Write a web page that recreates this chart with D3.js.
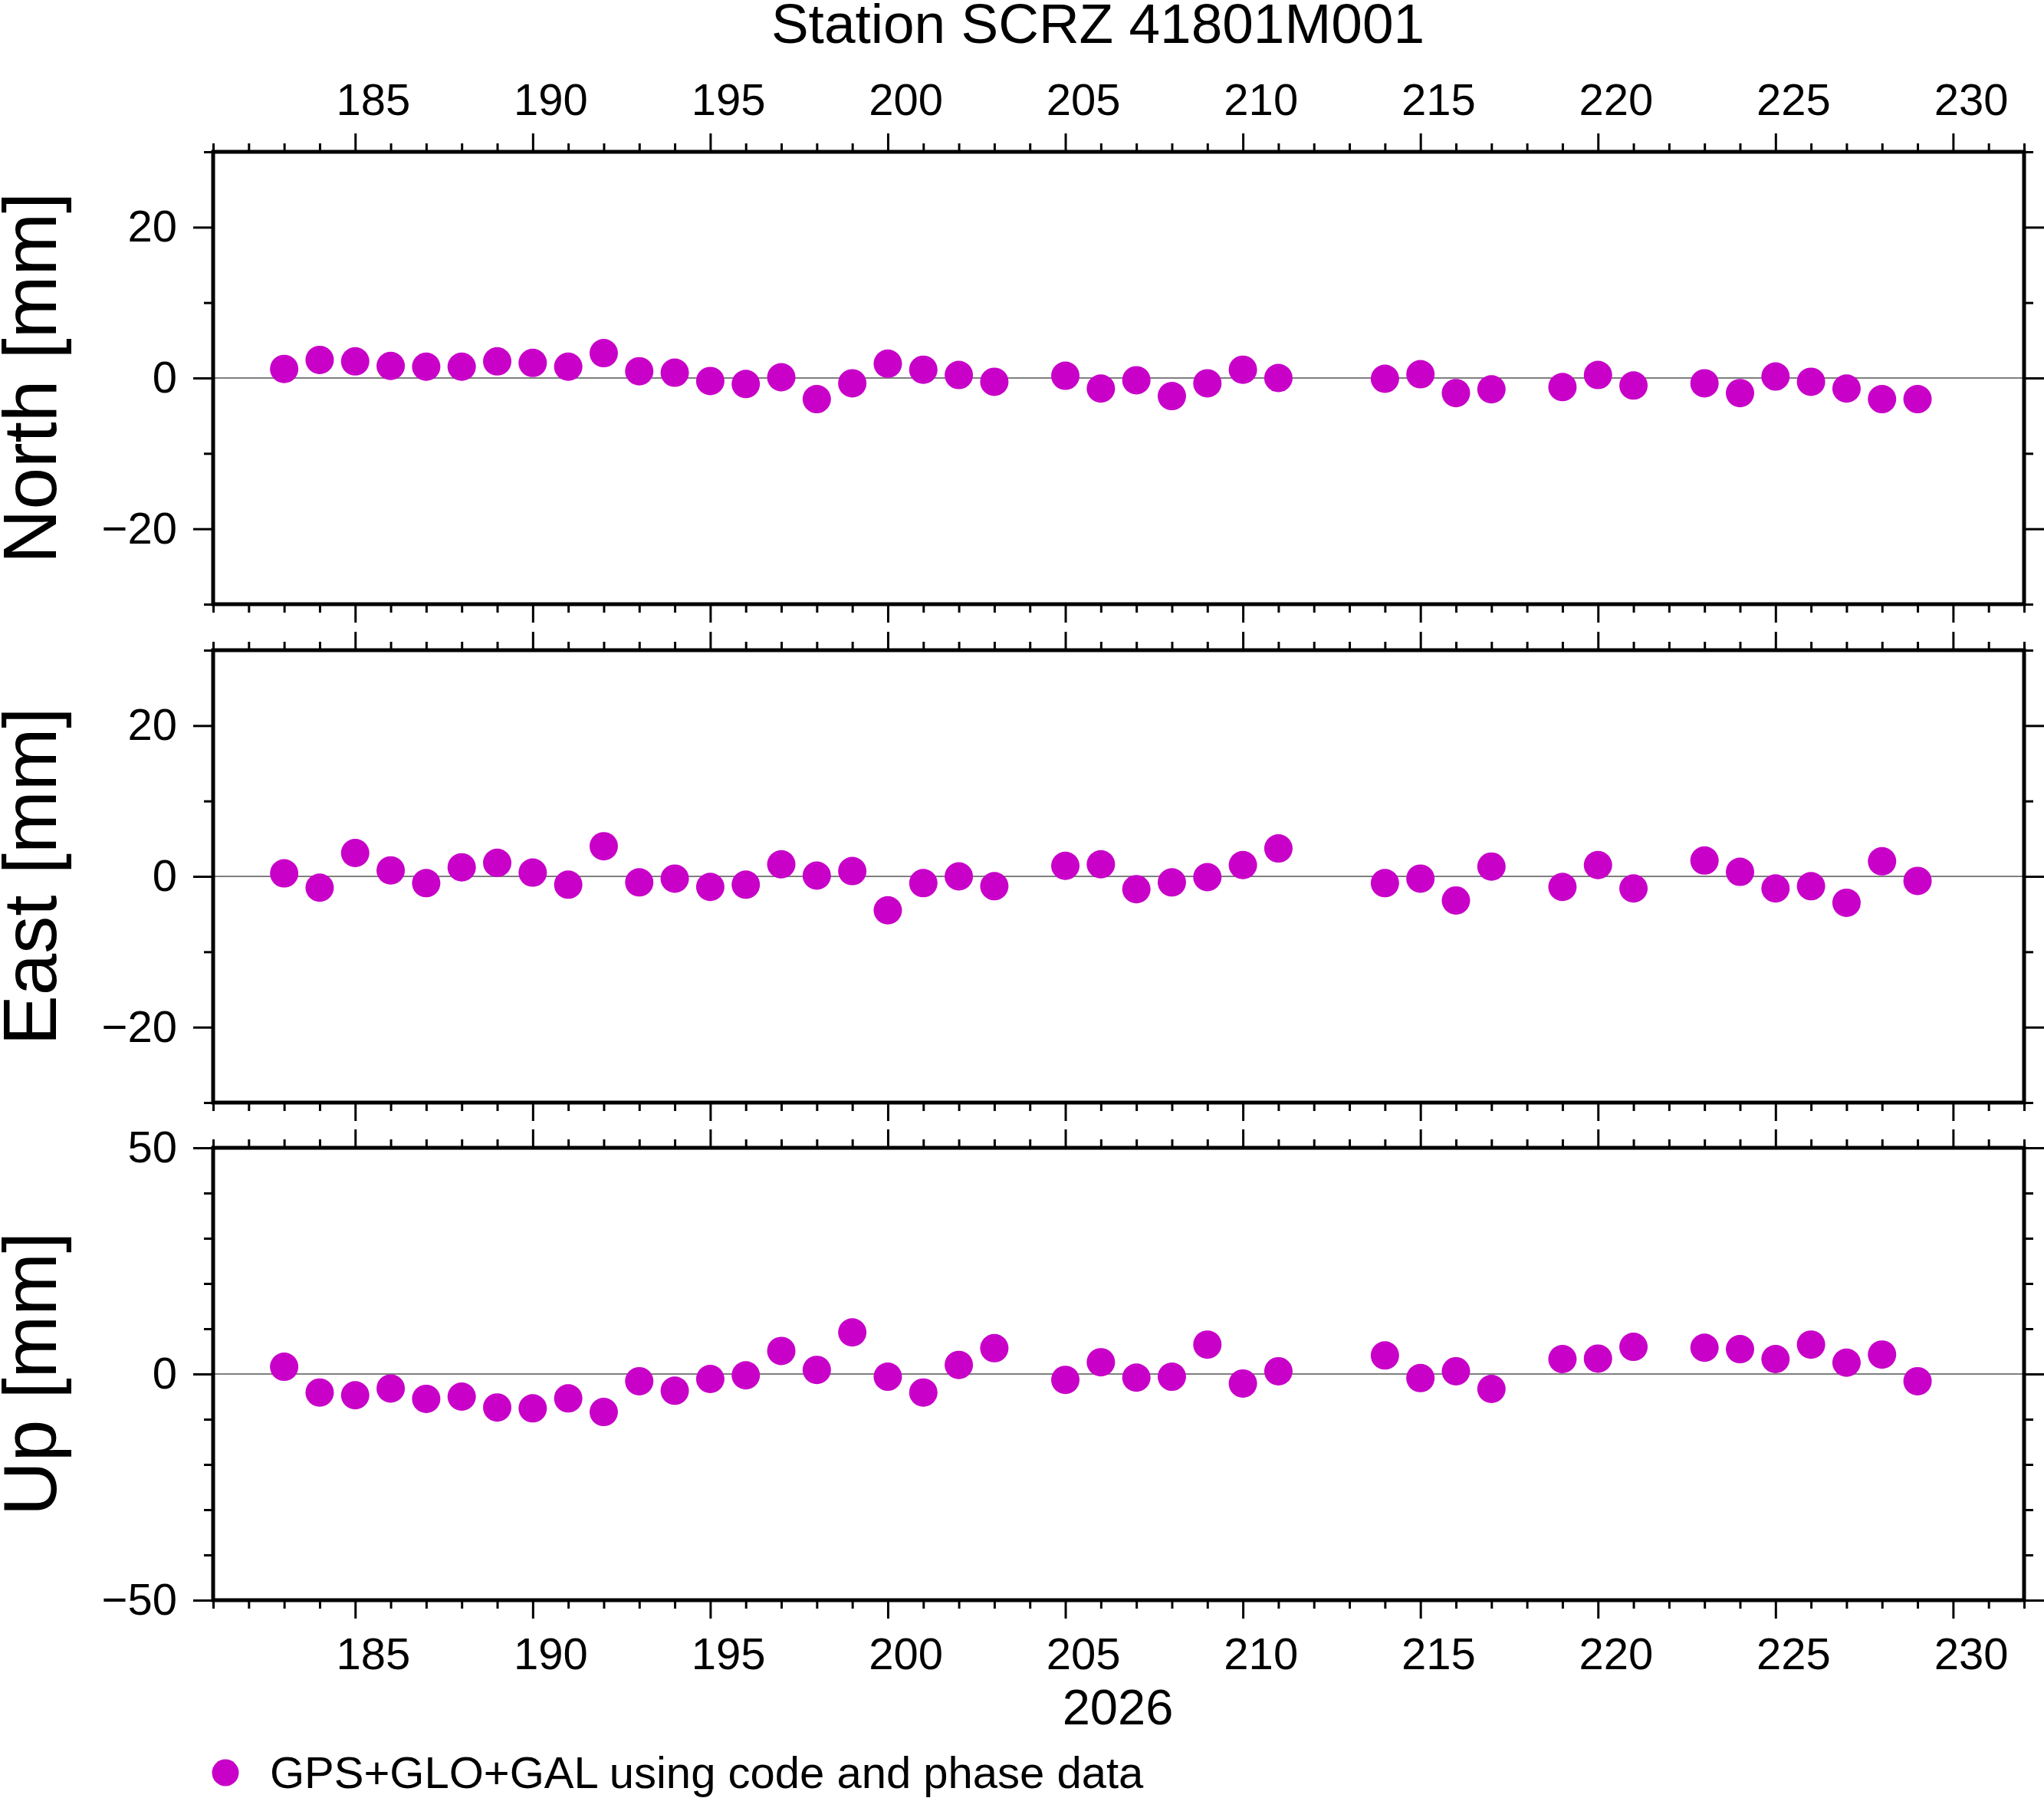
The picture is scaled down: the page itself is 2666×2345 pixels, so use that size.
<!DOCTYPE html>
<html lang="en">
<head>
    <meta charset="UTF-8">
    <title>Station SCRZ 41801M001</title>
    <script src="https://d3js.org/d3.v7.min.js"></script>
    <style>
        body { margin: 0; background: #fff; }
        text { font-family: "Liberation Sans", Arial, Helvetica, sans-serif; fill: #000; }
        .tick line { stroke: #000; stroke-width: 3px; }
    </style>
</head>
<body>
<svg width="2666" height="2345"></svg>
<script>
    // Day of year 2026 for each daily solution
    const days = [183, 184, 185, 186, 187, 188, 189, 190, 191, 192, 193, 194, 195, 196, 197,
        198, 199, 200, 201, 202, 203, 205, 206, 207, 208, 209, 210, 211, 214, 215, 216, 217,
        219, 220, 221, 223, 224, 225, 226, 227, 228, 229];

    // Residuals in mm
    const north = [1.2, 2.4, 2.2, 1.6, 1.5, 1.5, 2.2, 2.0, 1.5, 3.3, 0.9, 0.7, -0.4, -0.8, 0.1,
        -2.8, -0.7, 1.9, 1.1, 0.4, -0.5, 0.3, -1.4, -0.3, -2.4, -0.7, 1.1, 0.0, -0.1, 0.5, -2.0, -1.5,
        -1.2, 0.4, -1.0, -0.7, -2.0, 0.2, -0.5, -1.4, -2.8, -2.8];
    const east = [0.4, -1.5, 3.1, 0.8, -0.9, 1.2, 1.8, 0.5, -1.1, 4.0, -0.8, -0.3, -1.4, -1.1, 1.6,
        0.1, 0.7, -4.5, -0.9, 0.0, -1.3, 1.4, 1.6, -1.7, -0.8, -0.1, 1.5, 3.7, -0.9, -0.3, -3.2, 1.3,
        -1.4, 1.5, -1.6, 2.1, 0.6, -1.6, -1.3, -3.5, 2.0, -0.6];
    const up = [1.6, -4.1, -4.7, -3.2, -5.5, -5.0, -7.4, -7.6, -5.4, -8.4, -1.6, -3.7, -1.1, -0.3, 5.1,
        0.9, 9.2, -0.6, -4.1, 2.0, 5.7, -1.3, 2.6, -0.8, -0.6, 6.5, -2.1, 0.6, 4.1, -0.9, 0.6, -3.3,
        3.3, 3.4, 6.0, 5.8, 5.5, 3.3, 6.5, 2.5, 4.3, -1.6];

    const xTicks = [185, 190, 195, 200, 205, 210, 215, 220, 225, 230];
    const neTicks = [-20, 0, 20];
    const upTicks = [-50, 0, 50];

    const panels = [
        {label: "North [mm]", values: north, domain: [-30, 30], ticks: neTicks, top: 198},
        {label: "East [mm]", values: east, domain: [-30, 30], ticks: neTicks, top: 848},
        {label: "Up [mm]", values: up, domain: [-50, 50], ticks: upTicks, top: 1497}
    ];

    const left = 278, right = 2640, panelHeight = 590;
    const dotColor = "#c800c8";
    const minus = d3.format("d");
    const fmt = d => minus(d).replace("-", "\u2212");

    const svg = d3.select("svg");

    const x = d3.scaleLinear().domain([181, 232]).range([left, right]);
    const allDays = d3.range(181, 233);

    // Title
    svg.append("text")
        .attr("x", 1432)
        .attr("y", 56)
        .attr("text-anchor", "middle")
        .style("font-size", "73px")
        .text("Station SCRZ 41801M001");

    panels.forEach(function(p, i) {
        const bottom = p.top + panelHeight;
        const y = d3.scaleLinear().domain(p.domain).range([bottom, p.top]);
        const g = svg.append("g");

        // zero line
        g.append("line")
            .attr("x1", left).attr("x2", right)
            .attr("y1", y(0)).attr("y2", y(0))
            .attr("stroke", "#000")
            .attr("stroke-width", 1.2);

        // points
        g.selectAll("circle")
            .data(days)
            .join("circle")
            .attr("cx", d => x(d))
            .attr("cy", (d, j) => y(p.values[j]))
            .attr("r", 18.5)
            .attr("fill", dotColor);

        // x ticks, top and bottom of every panel
        const minorX = allDays.filter(d => xTicks.indexOf(d) < 0);
        [[d3.axisTop, p.top], [d3.axisBottom, bottom]].forEach(function(a) {
            g.append("g")
                .attr("transform", "translate(0," + a[1] + ")")
                .call(a[0](x).tickValues(minorX).tickSize(11).tickFormat(""))
                .call(s => s.select(".domain").remove());
            g.append("g")
                .attr("transform", "translate(0," + a[1] + ")")
                .call(a[0](x).tickValues(xTicks).tickSize(24).tickFormat(""))
                .call(s => s.select(".domain").remove());
        });

        // x labels sit in the middle of the day
        if (i === 0) {
            g.append("g")
                .attr("transform", "translate(0," + p.top + ")")
                .call(d3.axisTop(x).tickValues(xTicks.map(d => d + 0.5)).tickSize(0).tickPadding(48)
                    .tickFormat(d => d - 0.5))
                .call(s => s.select(".domain").remove())
                .selectAll("text").style("font-size", "58px").attr("fill", "#000");
        }
        if (i === panels.length - 1) {
            g.append("g")
                .attr("transform", "translate(0," + bottom + ")")
                .call(d3.axisBottom(x).tickValues(xTicks.map(d => d + 0.5)).tickSize(0).tickPadding(49)
                    .tickFormat(d => d - 0.5))
                .call(s => s.select(".domain").remove())
                .selectAll("text").style("font-size", "58px").attr("fill", "#000");
        }

        // y ticks both sides
        const minorY = d3.range(p.domain[0], p.domain[1] + 1, 10).filter(d => p.ticks.indexOf(d) < 0);
        [[d3.axisLeft, left], [d3.axisRight, right]].forEach(function(a) {
            g.append("g")
                .attr("transform", "translate(" + a[1] + ",0)")
                .call(a[0](y).tickValues(minorY).tickSize(12).tickFormat(""))
                .call(s => s.select(".domain").remove());
            g.append("g")
                .attr("transform", "translate(" + a[1] + ",0)")
                .call(a[0](y).tickValues(p.ticks).tickSize(26).tickFormat(""))
                .call(s => s.select(".domain").remove());
        });
        g.append("g")
            .attr("transform", "translate(" + left + ",0)")
            .call(d3.axisLeft(y).tickValues(p.ticks).tickSize(0).tickPadding(47).tickFormat(fmt))
            .call(s => s.select(".domain").remove())
            .selectAll("text").style("font-size", "58px").attr("fill", "#000");

        // frame
        g.append("rect")
            .attr("x", left).attr("y", p.top)
            .attr("width", right - left).attr("height", panelHeight)
            .attr("fill", "none")
            .attr("stroke", "#000")
            .attr("stroke-width", 5);

        // y axis title
        svg.append("text")
            .attr("transform", "translate(73," + (p.top + panelHeight / 2) + ") rotate(-90)")
            .attr("text-anchor", "middle")
            .style("font-size", "98px")
            .text(p.label);
    });

    // year label
    svg.append("text")
        .attr("x", 1458)
        .attr("y", 2249)
        .attr("text-anchor", "middle")
        .style("font-size", "65px")
        .text("2026");

    // legend
    svg.append("circle")
        .attr("cx", 294).attr("cy", 2312).attr("r", 17.5)
        .attr("fill", dotColor);
    svg.append("text")
        .attr("x", 352)
        .attr("y", 2332)
        .style("font-size", "58px")
        .text("GPS+GLO+GAL using code and phase data");
</script>
</body>
</html>
